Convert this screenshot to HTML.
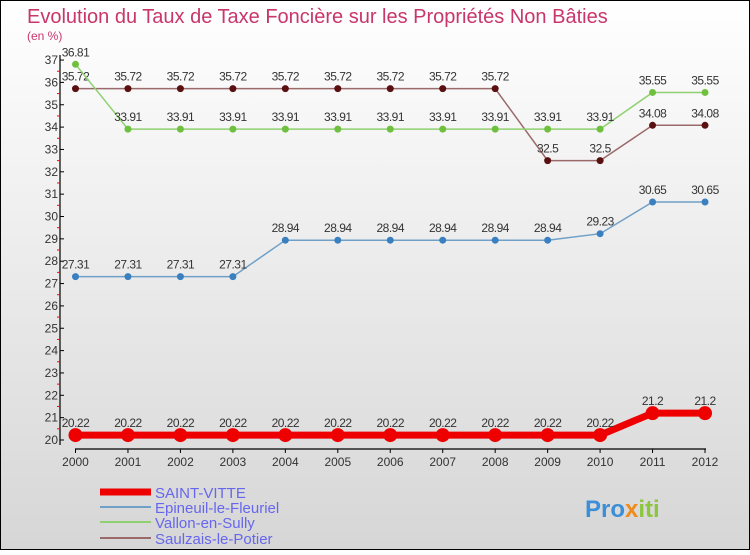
<!DOCTYPE html>
<html><head><meta charset="utf-8"><style>
body{margin:0}
svg text{font-family:"Liberation Sans",sans-serif}
</style></head><body>
<svg width="750" height="550" viewBox="0 0 750 550" xmlns="http://www.w3.org/2000/svg">
<defs><linearGradient id="bg" x1="0" y1="0" x2="0" y2="1"><stop offset="0" stop-color="#ffffff"/><stop offset="1" stop-color="#d6d6d6"/></linearGradient></defs>
<rect x="0.5" y="0.5" width="749" height="549" fill="url(#bg)" stroke="#000"/>
<text x="27" y="23" font-size="20" fill="#c8366a">Evolution du Taux de Taxe Foncière sur les Propriétés Non Bâties</text>
<text x="27" y="40" font-size="12" fill="#c8366a">(en %)</text>
<g id="axes"></g>
<g id="series"></g>
<g>
<line x1="100" y1="492" x2="151" y2="492" stroke="#e00" stroke-width="7"/>
<text x="155" y="498" font-size="15" fill="#6666ee">SAINT-VITTE</text>
<line x1="100" y1="507" x2="151" y2="507" stroke="#6fa0c8" stroke-width="2"/>
<text x="155" y="513" font-size="15" fill="#6666ee">Epineuil-le-Fleuriel</text>
<line x1="100" y1="522" x2="151" y2="522" stroke="#8fd070" stroke-width="2"/>
<text x="155" y="528" font-size="15" fill="#6666ee">Vallon-en-Sully</text>
<line x1="100" y1="538" x2="151" y2="538" stroke="#9a6a6a" stroke-width="2"/>
<text x="155" y="544" font-size="15" fill="#6666ee">Saulzais-le-Potier</text>
</g>
<text x="585" y="517" font-size="24" font-weight="bold"><tspan fill="#3a8fd8">Pro</tspan><tspan fill="#f08a1a">x</tspan><tspan fill="#8cc63e">iti</tspan></text>
</svg>
<script>
const years=[2000,2001,2002,2003,2004,2005,2006,2007,2008,2009,2010,2011,2012];
const saintVitte=[20.22,20.22,20.22,20.22,20.22,20.22,20.22,20.22,20.22,20.22,20.22,21.2,21.2];
const epineuil=[27.31,27.31,27.31,27.31,28.94,28.94,28.94,28.94,28.94,28.94,29.23,30.65,30.65];
const vallon=[36.81,33.91,33.91,33.91,33.91,33.91,33.91,33.91,33.91,33.91,33.91,35.55,35.55];
const saulzais=[35.72,35.72,35.72,35.72,35.72,35.72,35.72,35.72,35.72,32.5,32.5,34.08,34.08];
const yTicks=[20,21,22,23,24,25,26,27,28,29,30,31,32,33,34,35,36,37];
const NS="http://www.w3.org/2000/svg";
const x=i=>75.5+i*52.46;
const y=v=>440-(v-20)*22.35;
function mk(tag,attrs,parent){const e=document.createElementNS(NS,tag);for(const k in attrs)e.setAttribute(k,attrs[k]);parent.appendChild(e);return e;}
const ax=document.getElementById('axes');
let e=mk('line',{x1:60,y1:55,x2:60,y2:445,stroke:'#000','stroke-width':1.2},ax);


e=mk('line',{x1:75,y1:449,x2:706,y2:449,stroke:'#000','stroke-width':1.2},ax);


yTicks.forEach(t=>{
  mk('line',{x1:60,y1:y(t),x2:64,y2:y(t),stroke:'#000'},ax);
  if(t<37)mk('line',{x1:57,y1:y(t+0.5),x2:60,y2:y(t+0.5),stroke:'#f00'},ax);
  const tx=mk('text',{x:58,y:y(t)+4,'font-size':12,'text-anchor':'end',fill:'#333'},ax);
  tx.textContent=t;
  
  
});
years.forEach((yr,i)=>{
  mk('line',{x1:x(i),y1:449,x2:x(i),y2:453,stroke:'#000'},ax);
  const tx=mk('text',{x:x(i),y:466,'font-size':12,'text-anchor':'middle',fill:'#333'},ax);
  tx.textContent=yr;
  
  
});
const sg=document.getElementById('series');
function series(vals,line,dot,w,r,name){
  const g=mk('g',{},sg);
  
  
  const pl=mk('polyline',{points:vals.map((v,i)=>x(i)+','+y(v)).join(' '),fill:'none',stroke:line,'stroke-width':w},g);
  vals.forEach((v,i)=>{
    const c=mk('circle',{cx:x(i),cy:y(v),r:r,fill:dot},g);
    
    
    const t=mk('text',{x:x(i),y:y(v)-8,'font-size':12,'text-anchor':'middle',fill:'#333','letter-spacing':'-0.5'},g);
    t.textContent=String(v);
    
    
  });
}
series(saulzais,'#9a6a6a','#5a1010',1.5,3.5,'series-saulzais');
series(vallon,'#8fd070','#70c040',1.5,3.5,'series-vallon');
series(epineuil,'#6fa0c8','#3a80c0',1.5,3.5,'series-epineuil');
series(saintVitte,'#ee0000','#ee0000',7,7,'series-saint-vitte');
</script>
</body></html>
